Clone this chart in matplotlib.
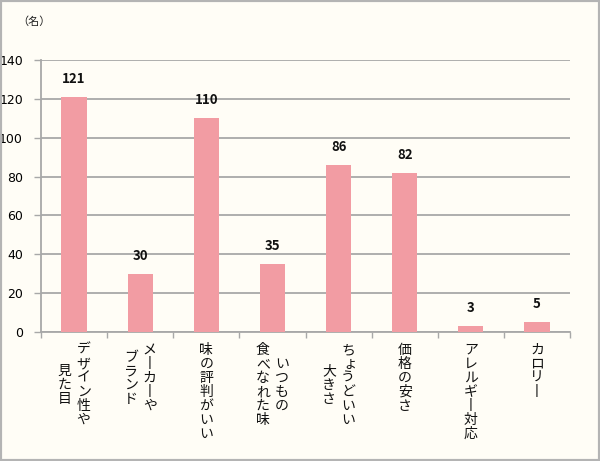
import matplotlib
matplotlib.use('Agg')
import matplotlib.pyplot as plt
from matplotlib.patches import Rectangle

plt.rcParams['font.family'] = ['Noto Sans CJK JP', 'DejaVu Sans']

# categories: '\n' splits vertical columns (first column drawn on the right)
categories = ['デザイン性や\n見た目', 'メーカーや\nブランド', '味の評判がいい', 'いつもの\n食べなれた味',
              'ちょうどいい\n大きさ', '価格の安さ', 'アレルギー対応', 'カロリー']
values = [121, 30, 110, 35, 86, 82, 3, 5]
yticks = [0, 20, 40, 60, 80, 100, 120, 140]

bg = '#fffdf6'
bar_color = '#f29ca3'
grey = '#a8a8a8'

fig = plt.figure(figsize=(6, 4.61), dpi=100, facecolor=bg)
ax = fig.add_axes([41/600, 129/461, 529/600, 272/461], facecolor=bg)

x = range(len(categories))
ax.bar(x, values, width=0.38, color=bar_color, zorder=3)
for i, v in enumerate(values):
    ax.annotate(str(v), xy=(i, v), xytext=(0, 11), textcoords='offset pixels',
                ha='center', va='bottom', fontsize=9.5, fontweight='bold', color='#111111')

ax.set_xlim(-0.5, len(categories) - 0.5)
ax.set_ylim(0, 140)
ax.set_yticks(yticks)
ax.set_yticklabels([str(t) for t in yticks], fontsize=9, family=['DejaVu Sans'])
ax.yaxis.grid(True, color=grey, lw=1.3, zorder=0)
ax.tick_params(axis='y', length=5, width=1, color=grey, pad=8)

ax.set_xticks([i - 0.5 for i in range(len(categories) + 1)])
ax.set_xticklabels([])
ax.tick_params(axis='x', length=4, width=1, color=grey)

for s in ['top', 'right']:
    ax.spines[s].set_visible(False)
for s in ['left', 'bottom']:
    ax.spines[s].set_color(grey)
    ax.spines[s].set_linewidth(1.3)

# vertical (tategaki) category labels
small = set('ゃゅょっャュョッァィゥェォ')
pitch = 14
col_gap = 19
for i, lab in enumerate(categories):
    cols = lab.split('\n')
    maxlen = max(len(c) for c in cols)
    cy = 11 + maxlen * pitch / 2
    for j, col in enumerate(cols):
        dx = (len(cols) - 1) / 2 * col_gap - j * col_gap
        top = cy - len(col) * pitch / 2
        for k, ch in enumerate(col):
            dy = top + (k + 0.5) * pitch
            sx = 2 if ch in small else 0
            if ch == 'ー':
                ch = '丨'
            ax.annotate(ch, xy=(i, 0), xytext=(dx + sx, -dy), textcoords='offset pixels',
                        ha='center', va='center', fontsize=10, color='#111111',
                        annotation_clip=False)

fig.text(17/600, 1 - 22/461, '（名）', fontsize=8, ha='left', va='center', color='#222222')

fig.add_artist(Rectangle((0, 0), 1, 1, transform=fig.transFigure, fill=False,
                         ec='#b4b4b4', lw=3))

fig.savefig('out.png', dpi=100, facecolor=bg)
